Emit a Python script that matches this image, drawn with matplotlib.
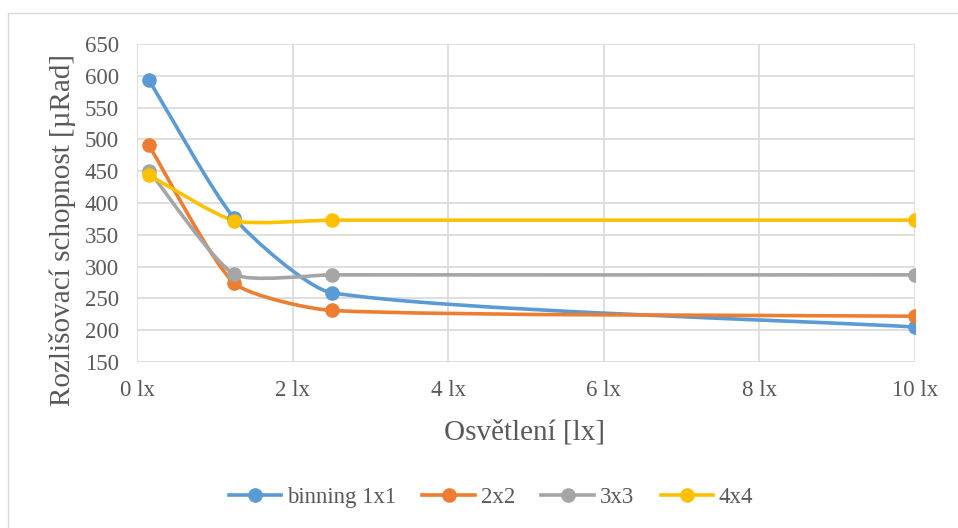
import numpy as np
import matplotlib
matplotlib.use("Agg")
import matplotlib.pyplot as plt
from matplotlib.path import Path
from matplotlib.patches import PathPatch, Rectangle
from matplotlib.lines import Line2D

plt.rcParams['font.family'] = ['Liberation Serif', 'DejaVu Serif']

# ------------------- Data -------------------
osvetleni = [0.15, 1.25, 2.5, 10]
binning_1x1 = [594, 376, 259, 205]
binning_2x2 = [491, 274, 231, 222]
binning_3x3 = [451, 288, 287, 287]
binning_4x4 = [444, 372, 373, 373]

series_names = ["binning 1x1", "2x2", "3x3", "4x4"]
series_values = [binning_1x1, binning_2x2, binning_3x3, binning_4x4]
colors = ["#5B9BD5", "#ED7D31", "#A5A5A5", "#FFC000"]

x_ticks = [0, 2, 4, 6, 8, 10]
y_ticks = [150, 200, 250, 300, 350, 400, 450, 500, 550, 600, 650]

# plot area in pixels (left, right, top, bottom)
L, R, T, B = 137, 915, 44, 362
W_PX, H_PX = 958, 528


def smooth_path(xs, ys, sx, sy, k=0.2):
    # Excel-like smoothed line, Bezier segments, computed in pixel-like space
    pts = np.column_stack([np.asarray(xs) * sx, np.asarray(ys) * sy]).astype(float)
    n = len(pts)
    verts = [pts[0]]
    codes = [Path.MOVETO]
    for i in range(n - 1):
        p0 = pts[max(i - 1, 0)]
        p1 = pts[i]
        p2 = pts[i + 1]
        p3 = pts[min(i + 2, n - 1)]
        d01 = np.hypot(*(p1 - p0))
        d12 = np.hypot(*(p2 - p1))
        d23 = np.hypot(*(p3 - p2))
        c1 = p1 + (p2 - p0) * d12 / (d01 + d12) * k
        c2 = p2 - (p3 - p1) * d12 / (d12 + d23) * k
        verts += [c1, c2, p2]
        codes += [Path.CURVE4] * 3
    verts = np.array(verts)
    verts[:, 0] /= sx
    verts[:, 1] /= sy
    return Path(verts, codes)


fig = plt.figure(figsize=(W_PX / 100, H_PX / 100), dpi=100)
ax = fig.add_axes([L / W_PX, 1 - B / H_PX, (R - L) / W_PX, (B - T) / H_PX])

# outer chart border
fig.patches.append(Rectangle((8 / W_PX, -0.05), 1.1, 1.05 - 13 / H_PX,
                             transform=fig.transFigure, fill=False,
                             edgecolor="#D9D9D9", linewidth=1.0))

sx = (R - L) / 10.0
sy = (B - T) / 500.0
for name, vals, c in zip(series_names, series_values, colors):
    patch = PathPatch(smooth_path(osvetleni, vals, sx, sy), facecolor="none",
                      edgecolor=c, linewidth=2.6, capstyle="round", zorder=3)
    ax.add_patch(patch)
    ax.plot(osvetleni, vals, linestyle="none", marker="o", markersize=9.5,
            color=c, zorder=4)

ax.set_xlim(0, 10)
ax.set_ylim(150, 650)
ax.set_xticks(x_ticks)
ax.set_xticklabels([f"{t} lx" for t in x_ticks])
ax.set_yticks(y_ticks)
ax.grid(True, color="#D9D9D9", linewidth=1.2, zorder=0)
ax.set_axisbelow(True)
for s in ax.spines.values():
    s.set_visible(False)
ax.tick_params(length=0, labelsize=16.5, labelcolor="#595959", pad=13)

fig.text(63 / W_PX, 1 - 230 / H_PX, "Rozlišovací schopnost [µRad]", rotation=90,
         ha="center", va="center", fontsize=21, color="#595959")
fig.text(525 / W_PX, 1 - 433 / H_PX, "Osvětlení [lx]",
         ha="center", va="center", fontsize=21, color="#595959")

handles = [Line2D([0], [0], color=c, linewidth=2.6, marker="o", markersize=9.5)
           for c in colors]
fig.legend(handles, series_names, loc="center", bbox_to_anchor=(491 / W_PX, 1 - 497 / H_PX),
           ncol=4, frameon=False, fontsize=16.5, labelcolor="#595959",
           handlelength=2.3, columnspacing=1.15, handletextpad=0.25)

fig.savefig("out.png", dpi=100)
